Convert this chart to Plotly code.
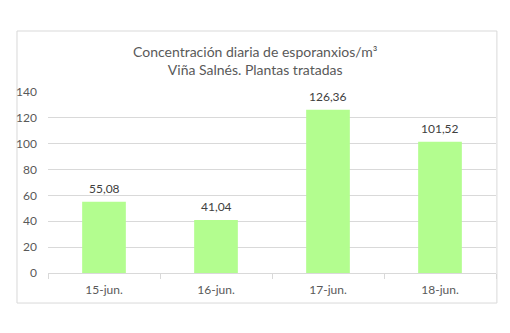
import plotly.graph_objects as go

categories = ["15-jun.", "16-jun.", "17-jun.", "18-jun."]
values = [55.08, 41.04, 126.36, 101.52]
labels = ["55,08", "41,04", "126,36", "101,52"]
y_ticks = [0, 20, 40, 60, 80, 100, 120, 140]

font_family = "Lato, 'Open Sans', sans-serif"

fig = go.Figure(go.Bar(
    x=categories, y=values,
    marker=dict(color="#b3fd8f", line=dict(width=0)),
    hoverinfo="x+y",
))

value_annotations = [
    dict(x=c, y=v, text=t, xref="x", yref="y", showarrow=False,
         yanchor="middle", yshift=13,
         font=dict(size=12, color="#404040", family=font_family))
    for c, v, t in zip(categories, values, labels)
]

fig.update_layout(
    width=510, height=333,
    margin=dict(l=48, r=14, t=92, b=60),
    paper_bgcolor="white", plot_bgcolor="white",
    bargap=0.61,
    showlegend=False,
    font=dict(family=font_family, color="#595959", size=12),
    xaxis=dict(
        type="category", showgrid=False,
        showline=True, linecolor="#d9d9d9", linewidth=1,
        ticks="outside", tickson="boundaries", ticklen=5, tickcolor="#d9d9d9",
        ticklabelstandoff=6,
        tickfont=dict(size=12, color="#595959"),
    ),
    yaxis=dict(
        range=[0, 140], tickvals=y_ticks,
        showgrid=True, gridcolor="#d9d9d9", gridwidth=1,
        zeroline=False, showline=False, ticks="",
        ticklabelstandoff=10,
        tickfont=dict(size=12, color="#595959"),
    ),
    shapes=[dict(
        type="rect", xref="paper", yref="paper",
        x0=-0.0692, x1=1.002, y0=-0.166, y1=1.337,
        line=dict(color="#d9d9d9", width=1), fillcolor="rgba(0,0,0,0)", layer="below",
    )],
    annotations=[dict(
        text="Concentración diaria de esporanxios/m³<br>Viña Salnés. Plantas tratadas",
        xref="paper", yref="paper", x=(255 - 48) / 448, y=(273 - 60) / 181,
        xanchor="center", yanchor="middle", showarrow=False,
        font=dict(size=14, color="#595959", family=font_family),
    )] + value_annotations,
)

fig.write_html("out.html")
